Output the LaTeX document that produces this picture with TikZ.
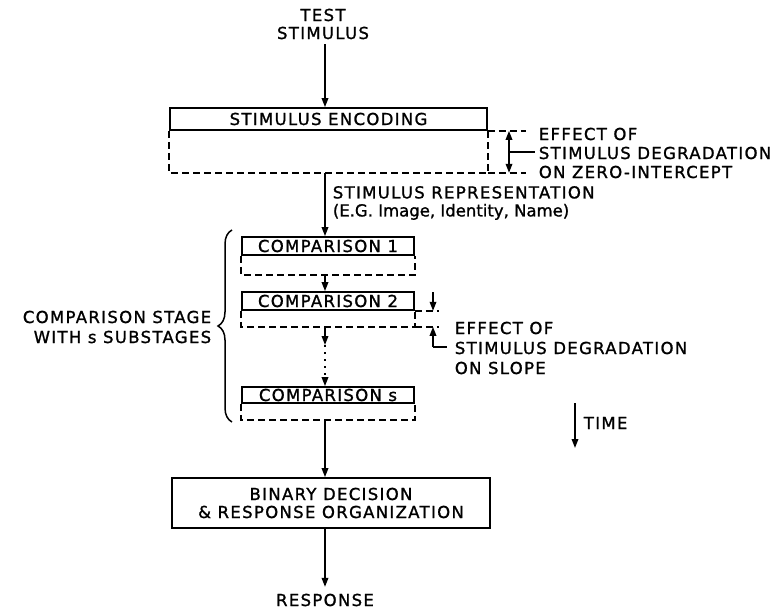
\documentclass[tikz,border=0pt]{standalone}
\usepackage{fontspec}
\setmainfont{DejaVu Sans}[LetterSpace=8, FakeBold=1.2]
\newfontfamily\lcfont{DejaVu Sans}[LetterSpace=0, FakeBold=1.2]
\usetikzlibrary{arrows.meta,decorations.pathreplacing}
\begin{document}
\begin{tikzpicture}[x=1pt,y=-1pt,
  line width=1.7pt,
  arr/.style={-{Triangle[length=9pt,width=6.5pt]}},
  dsh/.style={dash pattern=on 7pt off 4pt},
  lbl/.style={font=\fontsize{16.5}{18}\selectfont, inner sep=0pt},
  lblw/.style={font=\fontsize{16.5}{20}\selectfont, inner sep=0pt},
  stagebox/.style={draw, lbl, minimum width=#1, inner sep=0pt},
]
\useasboundingbox (0,0) rectangle (784,610);
\coordinate (ax) at (325,0);

% test stimulus
\node[lbl, align=center] (ts) at (323,24) {TEST\\STIMULUS};

% stimulus encoding
\node[stagebox=317pt, minimum height=22pt] (enc) at (328.5,119) {STIMULUS ENCODING};
\draw[dsh] (enc.south west) -- ++(0,42) coordinate (encBL) -| (enc.south east);
\coordinate (encBR) at (encBL -| enc.south east);
\draw[arr, shorten <=4pt] (ax |- ts.south) -- (ax |- enc.north);

% zero-intercept annotation
\draw[dsh] (enc.south east) -- ++(38,0);
\draw[dsh] (encBR) -- ++(38,0);
\coordinate (zmid) at (509,152);
\draw[arr] (zmid) -- (zmid |- enc.south);
\draw[arr] (zmid) -- (zmid |- encBR);
\draw (zmid) -- ++(26,0) coordinate (zlead);
\node[lbl, font=\fontsize{16.5}{19}\selectfont, anchor=west, align=left] (zt) at (538,153)
  {EFFECT OF\\STIMULUS DEGRADATION\\ON ZERO-INTERCEPT};

% representation label
\node[lbl, anchor=west, align=left] (srep) at (332,203)
  {STIMULUS REPRESENTATION\\{\lcfont (E.G. Image, Identity, Name)}};

% comparison boxes
\node[stagebox=172pt, minimum height=18pt] (c1) at (328,246) {COMPARISON 1};
\draw[dsh] (c1.south west) -- ++(0,19) coordinate (c1BL) -| (c1.south east);
\node[stagebox=172pt, minimum height=18pt] (c2) at (328,301) {COMPARISON 2};
\draw[dsh] (c2.south west) -- ++(0,16) coordinate (c2BL) -| (c2.south east);
\coordinate (c2BR) at (c2BL -| c2.south east);
\node[stagebox=172pt, minimum height=16pt] (cs) at (328,395) {COMPARISON s};
\draw[dsh] (cs.south west) -- ++(0,16) coordinate (csBL) -| (cs.south east);

\draw[arr] (encBL -| ax) -- (ax |- c1.north);
\draw[arr] (ax |- c1BL) -- (ax |- c2.north);
\coordinate (d1) at (325,345);
\coordinate (d2) at (325,378);
\draw[arr] (ax |- c2BL) -- (d1);
\draw[dash pattern=on 2pt off 5pt, line width=2pt] (d1) -- (d2);
\draw[arr] (d2) -- (ax |- cs.north);

% slope annotation
\draw[dsh] (c2.south east) -- ++(24,0);
\draw[dsh] (c2BR) -- ++(24,0);
\coordinate (sU) at (433,292);
\draw[arr] (sU) -- (sU |- c2.south);
\coordinate (sL) at (433,347);
\draw[arr] (sL) -- (sL |- c2BR);
\draw (sL) -- ++(14,0) coordinate (slead);
\node[lblw, anchor=west, align=left] (st) at (454,348)
  {EFFECT OF\\STIMULUS DEGRADATION\\ON SLOPE};

% brace and its label
\coordinate (brB) at (232,422);
\coordinate (brT) at (232,230);
\draw[line width=1.5pt, decorate, decoration={brace, amplitude=14pt}] (brB) -- (brT);
\node[lblw, anchor=east, align=right] (cst) at (212,327)
  {COMPARISON STAGE\\WITH s SUBSTAGES};

% binary decision
\node[draw, lbl, align=center, minimum width=318pt, minimum height=50pt] (bin) at (331,503)
  {BINARY DECISION\\\& RESPONSE ORGANIZATION};
\draw[arr] (ax |- csBL) -- (ax |- bin.north);
\node[lbl] (resp) at (325,600) {RESPONSE};
\draw[arr, shorten >=6pt] (ax |- bin.south) -- (ax |- resp.north);

% time arrow
\coordinate (t1) at (575,403);
\coordinate (t2) at (575,448);
\draw[arr] (t1) -- (t2);
\node[lbl, anchor=west] (time) at (583,423) {TIME};
\end{tikzpicture}
\end{document}
